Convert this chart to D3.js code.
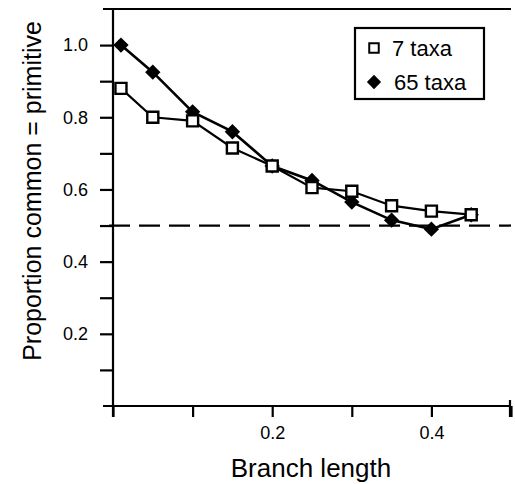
<!DOCTYPE html>
<html>
<head>
<meta charset="utf-8">
<script src="https://cdn.jsdelivr.net/npm/d3@7"></script>
<style>
  body { margin: 0; background: #fff; }
  text { font-family: "Liberation Sans", Arial, Helvetica, sans-serif; fill: #000; }
</style>
</head>
<body>
<div id="chart"></div>
<script>
// data
var branchLength = [0.01, 0.05, 0.1, 0.15, 0.2, 0.25, 0.3, 0.35, 0.4, 0.45];
var taxa7  = [0.88, 0.80, 0.79, 0.715, 0.665, 0.605, 0.595, 0.555, 0.54, 0.53];
var taxa65 = [1.0, 0.925, 0.815, 0.76, 0.665, 0.625, 0.565, 0.515, 0.49, 0.53];
var yTicks = [0.1, 0.2, 0.3, 0.4, 0.5, 0.6, 0.7, 0.8, 0.9, 1.0];
var yLabels = [0.2, 0.4, 0.6, 0.8, 1.0];
var xTicks = [0, 0.1, 0.2, 0.3, 0.4, 0.5];
var xLabels = [0.2, 0.4];
var chance = 0.5;

var width = 515, height = 484;

var svg = d3.select("#chart")
  .append("svg")
    .attr("width", width)
    .attr("height", height);

var x = d3.scaleLinear()
    .domain([0, 0.5])
    .range([113, 511]);

var y = d3.scaleLinear()
    .domain([0, 1.1])
    .range([406, 9]);

function isLabel(list, d) {
  return list.some(function(v) { return Math.abs(v - d) < 1e-9; });
}

// Y axis
var yAxis = svg.append("g")
    .attr("transform", "translate(" + x(0) + ",0)")
    .call(d3.axisLeft(y)
      .tickValues(yTicks)
      .tickSize(13)
      .tickPadding(12)
      .tickFormat(function(d) { return isLabel(yLabels, d) ? d3.format(".1f")(d) : ""; }));
yAxis.select(".domain").remove();
yAxis.selectAll("line").attr("stroke-width", 2.2);
yAxis.selectAll("text").style("font-size", "18px").attr("font-family", null);

// X axis
var xAxis = svg.append("g")
    .attr("transform", "translate(0," + y(0) + ")")
    .call(d3.axisBottom(x)
      .tickValues(xTicks)
      .tickSize(11)
      .tickPadding(9)
      .tickFormat(function(d) { return isLabel(xLabels, d) ? d3.format(".1f")(d) : ""; }));
xAxis.select(".domain").remove();
xAxis.selectAll("line").attr("stroke-width", 2.2);
xAxis.selectAll("text").style("font-size", "18px").attr("font-family", null);

// axis lines and top frame line
svg.append("line")
    .attr("x1", x(0)).attr("x2", x(0))
    .attr("y1", y(1.1)).attr("y2", y(0) + 11)
    .attr("stroke", "#000").attr("stroke-width", 2.2);
svg.append("line")
    .attr("x1", x(0) - 10).attr("x2", x(0.5))
    .attr("y1", y(0)).attr("y2", y(0))
    .attr("stroke", "#000").attr("stroke-width", 2.2);
svg.append("line")
    .attr("x1", x(0) - 10).attr("x2", x(0.5))
    .attr("y1", y(1.1)).attr("y2", y(1.1))
    .attr("stroke", "#000").attr("stroke-width", 2.2);
svg.append("line")
    .attr("x1", x(0.5) - 1).attr("x2", x(0.5) - 1)
    .attr("y1", y(0) - 6).attr("y2", y(0) + 11)
    .attr("stroke", "#000").attr("stroke-width", 2.2);

// dashed 0.5 reference line
svg.append("line")
    .attr("x1", x(0) - 4).attr("x2", x(0.5))
    .attr("y1", y(chance)).attr("y2", y(chance))
    .attr("stroke", "#000").attr("stroke-width", 2.2)
    .attr("stroke-dasharray", "21,9");

var line = d3.line()
    .x(function(d) { return x(d[0]); })
    .y(function(d) { return y(d[1]); });

var data65 = branchLength.map(function(b, i) { return [b, taxa65[i]]; });
var data7 = branchLength.map(function(b, i) { return [b, taxa7[i]]; });

svg.append("path")
    .datum(data65)
    .attr("d", line)
    .attr("fill", "none")
    .attr("stroke", "#000")
    .attr("stroke-width", 2.6);

svg.append("path")
    .datum(data7)
    .attr("d", line)
    .attr("fill", "none")
    .attr("stroke", "#000")
    .attr("stroke-width", 2.2);

var diamond = d3.symbol().type(d3.symbolDiamond2).size(150);
var square = d3.symbol().type(d3.symbolSquare2).size(155);

svg.selectAll(".dia")
  .data(data65)
  .enter()
  .append("path")
    .attr("class", "dia")
    .attr("transform", function(d) { return "translate(" + x(d[0]) + "," + y(d[1]) + ")"; })
    .attr("d", diamond)
    .attr("fill", "#000");

svg.selectAll(".sq")
  .data(data7)
  .enter()
  .append("path")
    .attr("class", "sq")
    .attr("transform", function(d) { return "translate(" + x(d[0]) + "," + y(d[1]) + ")"; })
    .attr("d", square)
    .attr("fill", "#fff")
    .attr("stroke", "#000")
    .attr("stroke-width", 2.4);

// legend
var legend = svg.append("g").attr("transform", "translate(355,28)");
legend.append("rect")
    .attr("width", 129).attr("height", 71)
    .attr("fill", "#fff")
    .attr("stroke", "#000")
    .attr("stroke-width", 2.2);
legend.append("path")
    .attr("transform", "translate(19,20)")
    .attr("d", d3.symbol().type(d3.symbolSquare2).size(115))
    .attr("fill", "#fff").attr("stroke", "#000").attr("stroke-width", 2);
legend.append("path")
    .attr("transform", "translate(19,54)")
    .attr("d", d3.symbol().type(d3.symbolDiamond2).size(130))
    .attr("fill", "#000");
legend.append("text")
    .attr("x", 37).attr("y", 28)
    .style("font-size", "22px")
    .text("7 taxa");
legend.append("text")
    .attr("x", 39).attr("y", 62)
    .style("font-size", "22px")
    .text("65 taxa");

// axis titles
svg.append("text")
    .attr("transform", "translate(41,191) rotate(-90)")
    .attr("text-anchor", "middle")
    .style("font-size", "25px")
    .text("Proportion common = primitive");

svg.append("text")
    .attr("x", 311)
    .attr("y", 477)
    .attr("text-anchor", "middle")
    .style("font-size", "26px")
    .text("Branch length");
</script>
</body>
</html>
